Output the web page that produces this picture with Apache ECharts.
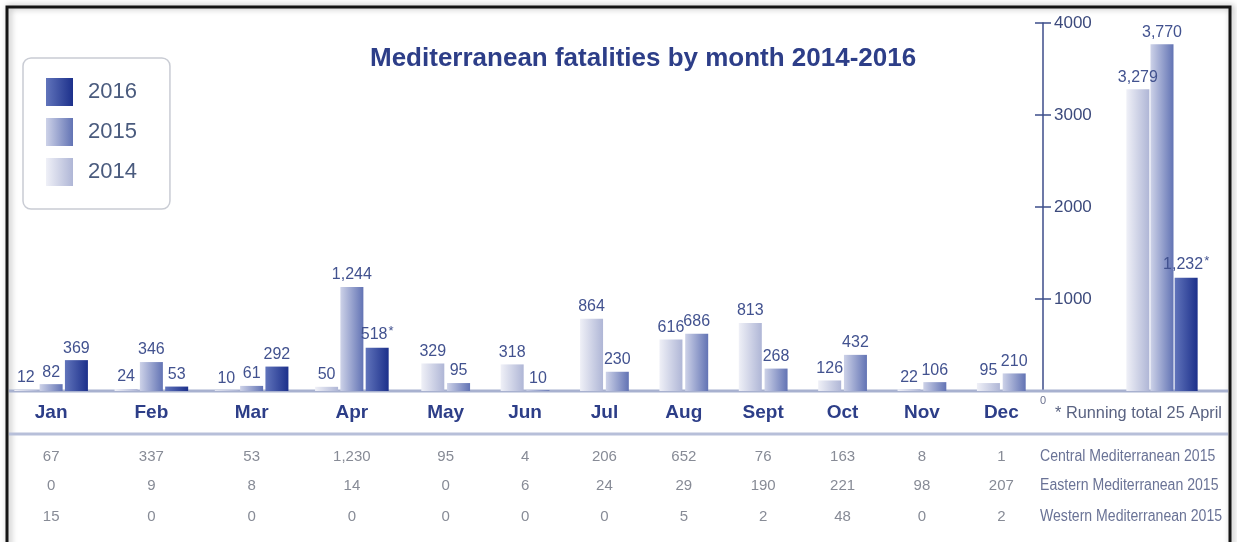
<!DOCTYPE html>
<html>
<head>
<meta charset="utf-8">
<title>Mediterranean fatalities by month 2014-2016</title>
<script src="https://cdn.jsdelivr.net/npm/echarts@6.0.0/dist/echarts.min.js"></script>
<style>
  html, body { margin: 0; padding: 0; background: #fff; }
  #chart { width: 1237px; height: 542px; }
</style>
</head>
<body>
<div id="chart"></div>
<script>
  // values
  const months = ['Jan', 'Feb', 'Mar', 'Apr', 'May', 'Jun', 'Jul', 'Aug', 'Sept', 'Oct', 'Nov', 'Dec'];
  const years = ['2014', '2015', '2016'];
  const fat2014 = [12, 24, 10, 50, 329, 318, 864, 616, 813, 126, 22, 95];
  const fat2015 = [82, 346, 61, 1244, 95, 10, 230, 686, 268, 432, 106, 210];
  const fat2016 = [369, 53, 292, 518, null, null, null, null, null, null, null, null];
  const totals = [3279, 3770, 1232];          // 2014, 2015, 2016 (running total)
  const totalTicks = [0, 1000, 2000, 3000, 4000];

  // table under the chart (2015 by route)
  const rowNames = ['Central Mediterranean 2015', 'Eastern Mediterranean 2015', 'Western Mediterranean 2015'];
  const central2015 = [67, 337, 53, 1230, 95, 4, 206, 652, 76, 163, 8, 1];
  const eastern2015 = [0, 9, 8, 14, 0, 6, 24, 29, 190, 221, 98, 207];
  const western2015 = [15, 0, 0, 0, 0, 0, 0, 5, 2, 48, 0, 2];

  const chart = echarts.init(document.getElementById('chart'));

  const NARROW = '"Liberation Sans Narrow", "Liberation Sans", sans-serif';
  const SANS = '"Liberation Sans", Arial, sans-serif';
  const NAVY = '#2d3e88';
  const LABEL = '#42528f';
  const GREY = '#878b96';

  // layout
  const TOP = 23;
  const BASE = 391;                 // y of the baseline
  const BOTTOM = 542 - BASE;
  const ROW_OFF = [50, 79, 110];    // table rows below baseline
  const ROW_MARGIN = 8;

  const grad = (a, b) => ({
    type: 'linear', x: 0, y: 0, x2: 1, y2: 0,
    colorStops: [{ offset: 0, color: a }, { offset: 1, color: b }]
  });
  const yearColor = {
    '2014': grad('#eff0f7', '#afb6d6'),
    '2015': grad('#cdd2e8', '#6273b4'),
    '2016': grad('#6174bb', '#1c308b')
  };
  const yearData = { '2014': fat2014, '2015': fat2015, '2016': fat2016 };

  const fmt = v => (v == null ? '' : Number(v).toLocaleString('en-US'));

  // months with 2016 figures get three bars, the rest two
  const split = fat2016.filter(v => v != null).length;
  const monthsA = months.slice(0, split);
  const monthsB = months.slice(split);
  const lastIdx2016 = split - 1;

  function barLabel(starIdx) {
    return {
      show: true,
      position: 'top',
      distance: 4,
      color: LABEL,
      fontSize: 16,
      fontFamily: SANS,
      formatter: p => fmt(p.value) + (p.dataIndex === starIdx ? '{s|*}' : ''),
      rich: { s: { fontSize: 13, color: LABEL, verticalAlign: 'top', padding: [0, 0, 6, 1] } }
    };
  }

  function monthAxis(gridIndex, data) {
    return {
      type: 'category', gridIndex: gridIndex, data: data,
      axisLine: { show: false }, axisTick: { show: false },
      axisLabel: { interval: 0, margin: 12, color: NAVY, fontSize: 19, fontWeight: 'bold', fontFamily: SANS }
    };
  }

  function rowAxis(gridIndex, values, off) {
    return {
      type: 'category', gridIndex: gridIndex, position: 'bottom', offset: off,
      data: values.map(fmt),
      axisLine: { show: false }, axisTick: { show: false },
      axisLabel: { interval: 0, margin: ROW_MARGIN, color: GREY, fontSize: 15, fontFamily: NARROW }
    };
  }

  const rows = [central2015, eastern2015, western2015];

  const xAxis = [
    monthAxis(0, monthsA),
    monthAxis(1, monthsB),
    { type: 'category', gridIndex: 2, data: ['Total'], axisLine: { show: false }, axisTick: { show: false }, axisLabel: { show: false } }
  ];
  rows.forEach((r, i) => xAxis.push(rowAxis(0, r.slice(0, split), ROW_OFF[i])));
  rows.forEach((r, i) => xAxis.push(rowAxis(1, r.slice(split), ROW_OFF[i])));

  const hiddenY = g => ({ type: 'value', gridIndex: g, min: 0, max: 4400, show: false });
  const totalY = {
    type: 'value', gridIndex: 2, position: 'left', offset: 47,
    min: totalTicks[0], max: totalTicks[totalTicks.length - 1], interval: totalTicks[1] - totalTicks[0],
    axisLine: { show: true, lineStyle: { color: '#3c4d8a', width: 1.5 } },
    axisTick: { show: true, inside: true, length: 8, lineStyle: { color: '#3c4d8a', width: 1.5 } },
    axisLabel: { inside: true, margin: 11, color: '#3c4a7c', fontSize: 17, fontFamily: SANS, formatter: v => (v === 0 ? '' : String(v)) },
    splitLine: { show: false }
  };
  // same axis again, for the tick halves on the left side
  const totalYLeftTicks = {
    type: 'value', gridIndex: 2, position: 'left', offset: 47,
    min: totalY.min, max: totalY.max, interval: totalY.interval,
    axisLine: { show: false },
    axisTick: { show: true, inside: false, length: 8, lineStyle: { color: '#3c4d8a', width: 1.5 } },
    axisLabel: { show: false },
    splitLine: { show: false }
  };

  const series = [];
  years.forEach(y => {
    series.push({
      name: y, type: 'bar', xAxisIndex: 0, yAxisIndex: 0,
      data: yearData[y].slice(0, split),
      barWidth: 23, barGap: '10%',
      itemStyle: { color: yearColor[y] },
      label: barLabel(y === '2016' ? lastIdx2016 : -1)
    });
  });
  ['2014', '2015'].forEach(y => {
    series.push({
      name: y, type: 'bar', xAxisIndex: 1, yAxisIndex: 1,
      data: yearData[y].slice(split),
      barWidth: 23, barGap: '12%',
      itemStyle: { color: yearColor[y] },
      label: barLabel(-1)
    });
  });
  years.forEach((y, i) => {
    series.push({
      name: y, type: 'bar', xAxisIndex: 2, yAxisIndex: 2,
      data: [totals[i]],
      barWidth: 23, barGap: '5%',
      itemStyle: { color: yearColor[y] },
      label: barLabel(y === '2016' ? 0 : -1)
    });
  });

  const graphic = [
    // frame
    { type: 'rect', z: 0, shape: { x: 7, y: 7, width: 1223, height: 560 },
      style: { fill: 'none', stroke: '#151515', lineWidth: 3, shadowBlur: 6, shadowColor: 'rgba(0,0,0,0.35)', shadowOffsetX: 2 } },
    // baseline and table rule
    { type: 'line', z: 1, shape: { x1: 9, y1: BASE, x2: 1228, y2: BASE }, style: { stroke: '#a8b1cf', lineWidth: 3 } },
    { type: 'line', z: 1, shape: { x1: 9, y1: BASE + 43, x2: 1228, y2: BASE + 43 }, style: { stroke: '#b7bfd9', lineWidth: 3 } },
    { type: 'text', x: 1040, y: BASE + 4, style: { text: '0', fontSize: 11, fill: '#6d7390', fontFamily: SANS } },
    { type: 'text', x: 1055, y: BASE + 14, scaleX: 0.96,
      style: { text: '* Running total 25 April', fontSize: 17, fill: '#5a6382', fontFamily: NARROW } }
  ];
  rowNames.forEach((n, i) => {
    graphic.push({
      type: 'text', x: 1040, y: BASE + ROW_OFF[i] + ROW_MARGIN, scaleX: 0.88,
      style: { text: n, fontSize: 16, fill: '#6a7396', fontFamily: NARROW, verticalAlign: 'top' }
    });
  });

  chart.setOption({
    animation: false,
    title: {
      text: 'Mediterranean fatalities by month 2014-2016',
      left: 365, top: 41,
      textStyle: { color: NAVY, fontSize: 26, fontWeight: 'bold', fontFamily: SANS }
    },
    legend: {
      data: ['2016', '2015', '2014'],
      orient: 'vertical', left: 23, top: 58,
      icon: 'rect', itemWidth: 27, itemHeight: 28, itemGap: 12,
      padding: [20, 33, 23, 23],
      borderColor: '#c9ccd4', borderWidth: 1.5, borderRadius: 8,
      textStyle: { fontSize: 22, color: '#4a5b7e', fontFamily: SANS, padding: [0, 0, 0, 10] }
    },
    grid: [
      { left: 1, width: 401, top: TOP, bottom: BOTTOM },
      { left: 406, width: 635, top: TOP, bottom: BOTTOM },
      { left: 1090, width: 144, top: TOP, bottom: BOTTOM }
    ],
    xAxis: xAxis,
    yAxis: [hiddenY(0), hiddenY(1), totalY, totalYLeftTicks],
    series: series,
    graphic: graphic
  });
</script>
</body>
</html>
